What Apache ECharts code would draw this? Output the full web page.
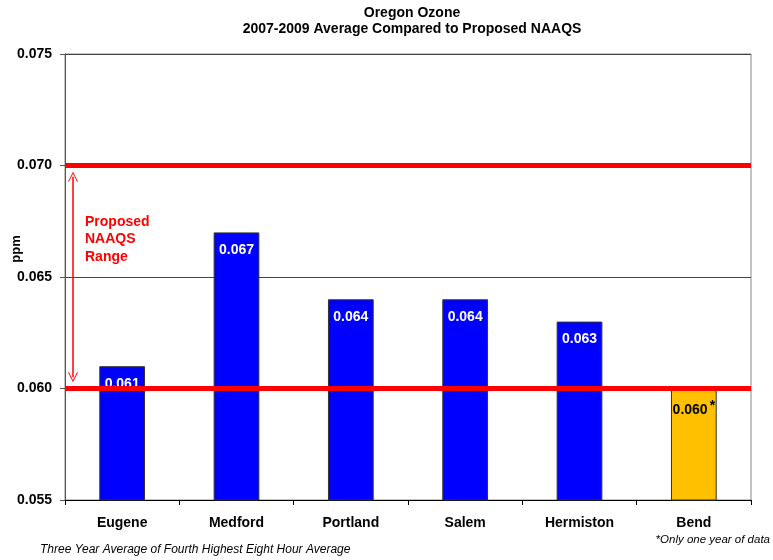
<!DOCTYPE html>
<html>
<head>
<meta charset="utf-8">
<script src="https://cdn.jsdelivr.net/npm/echarts@6/dist/echarts.min.js"></script>
<style>html,body{margin:0;padding:0;background:#fff}#c{width:773px;height:560px}</style>
</head>
<body>
<div id="c"></div>
<script>
var categories = ['Eugene', 'Medford', 'Portland', 'Salem', 'Hermiston', 'Bend'];
var values = [0.061, 0.067, 0.064, 0.064, 0.063, 0.060];
var oneYearOnly = [false, false, false, false, false, true];
var naaqsRange = [0.060, 0.070];
var arrowEnds = [0.0695, 0.0605];
var yTicks = { min: 0.055, max: 0.075, interval: 0.005 };

var F = '"Liberation Sans", Arial, sans-serif';
var chart = echarts.init(document.getElementById('c'));

var barData = values.map(function (v, i) {
  var d = { value: v };
  if (oneYearOnly[i]) {
    d.itemStyle = { color: '#FFC000' };
    d.label = { color: '#000', formatter: function (p) { return '{v|' + p.value.toFixed(3) + '}{s|*}'; } };
  }
  return d;
});

chart.setOption({
  animation: false,
  title: [
    { text: 'Oregon Ozone\n2007-2009 Average Compared to Proposed NAAQS', left: 412, top: 5, padding: 0, textAlign: 'center',
      textStyle: { fontFamily: F, fontSize: 14, fontWeight: 'bold', color: '#000', lineHeight: 16 } },
    { text: 'Three Year Average of Fourth Highest Eight Hour Average', left: 40, top: 544, padding: 0,
      textStyle: { fontFamily: F, fontSize: 12, fontStyle: 'italic', fontWeight: 'normal', color: '#000' } },
    { text: '*Only one year of data', right: 3, top: 534, padding: 0,
      textStyle: { fontFamily: F, fontSize: 11.5, fontStyle: 'italic', fontWeight: 'normal', color: '#000' } }
  ],
  grid: { left: 65, right: 22, top: 54, bottom: 60, show: true, borderColor: '#888', borderWidth: 1 },
  xAxis: [
    { type: 'category', data: categories,
      axisLine: { lineStyle: { color: '#000', width: 1 } },
      axisTick: { show: true, length: 5, lineStyle: { color: '#000' } },
      axisLabel: { fontFamily: F, fontSize: 14, fontWeight: 'bold', color: '#000', margin: 16 } },
    { type: 'value', min: -0.5, max: 5.5, show: false,
      axisLine: { show: false }, axisTick: { show: false }, axisLabel: { show: false }, splitLine: { show: false } }
  ],
  yAxis: {
    type: 'value', min: yTicks.min, max: yTicks.max, interval: yTicks.interval,
    axisLine: { show: true, onZero: false, lineStyle: { color: '#555', width: 1 } },
    axisTick: { show: true, length: 5, lineStyle: { color: '#555' } },
    axisLabel: { fontFamily: F, fontSize: 14, fontWeight: 'bold', color: '#000', margin: 13,
      formatter: function (v) { return v.toFixed(3); } },
    splitLine: { show: true, lineStyle: { color: '#444', width: 1 } }
  },
  graphic: [
    { type: 'text', x: 16, y: 249, rotation: Math.PI / 2,
      style: { text: 'ppm', fontFamily: F, fontSize: 13, fontWeight: 'bold', fill: '#000', textAlign: 'center', textVerticalAlign: 'middle' } },
    { type: 'text', x: 85, y: 213,
      style: { text: 'Proposed\nNAAQS\nRange', fontFamily: F, fontSize: 14, fontWeight: 'bold', fill: '#FF0000', lineHeight: 17.5 } }
  ],
  series: [
    { type: 'bar', data: barData, barWidth: '40%', xAxisIndex: 0,
      itemStyle: { color: '#0000FF', borderColor: '#333', borderWidth: 1 },
      label: { show: true, position: 'insideTop', distance: 11, color: '#fff', fontFamily: F, fontSize: 14, fontWeight: 'bold',
        formatter: function (p) { return p.value.toFixed(3); },
        rich: {
          v: { fontFamily: F, fontSize: 14, fontWeight: 'bold', color: '#000' },
          s: { fontFamily: F, fontSize: 14, fontWeight: 'bold', color: '#000', verticalAlign: 'top', padding: [0, 0, 8, 2] }
        } }
    },
    { type: 'line', xAxisIndex: 1, data: [], z: 10,
      markLine: {
        silent: true, symbol: 'none', label: { show: false },
        lineStyle: { color: '#FF0000', width: 5, type: 'solid' },
        data: naaqsRange.map(function (v) { return { yAxis: v }; })
      }
    },
    { type: 'line', xAxisIndex: 1, data: [], z: 11,
      markLine: {
        silent: true, label: { show: false },
        symbol: ['path://M0,10 L5,0 L10,10 L9,10 L5,2 L1,10 Z', 'path://M0,10 L5,0 L10,10 L9,10 L5,2 L1,10 Z'],
        symbolSize: [10, 10],
        lineStyle: { color: '#FF0000', width: 1.5, type: 'solid' },
        data: [[{ coord: [-0.43, arrowEnds[0]] }, { coord: [-0.43, arrowEnds[1]] }]]
      }
    }
  ]
});
</script>
</body>
</html>
